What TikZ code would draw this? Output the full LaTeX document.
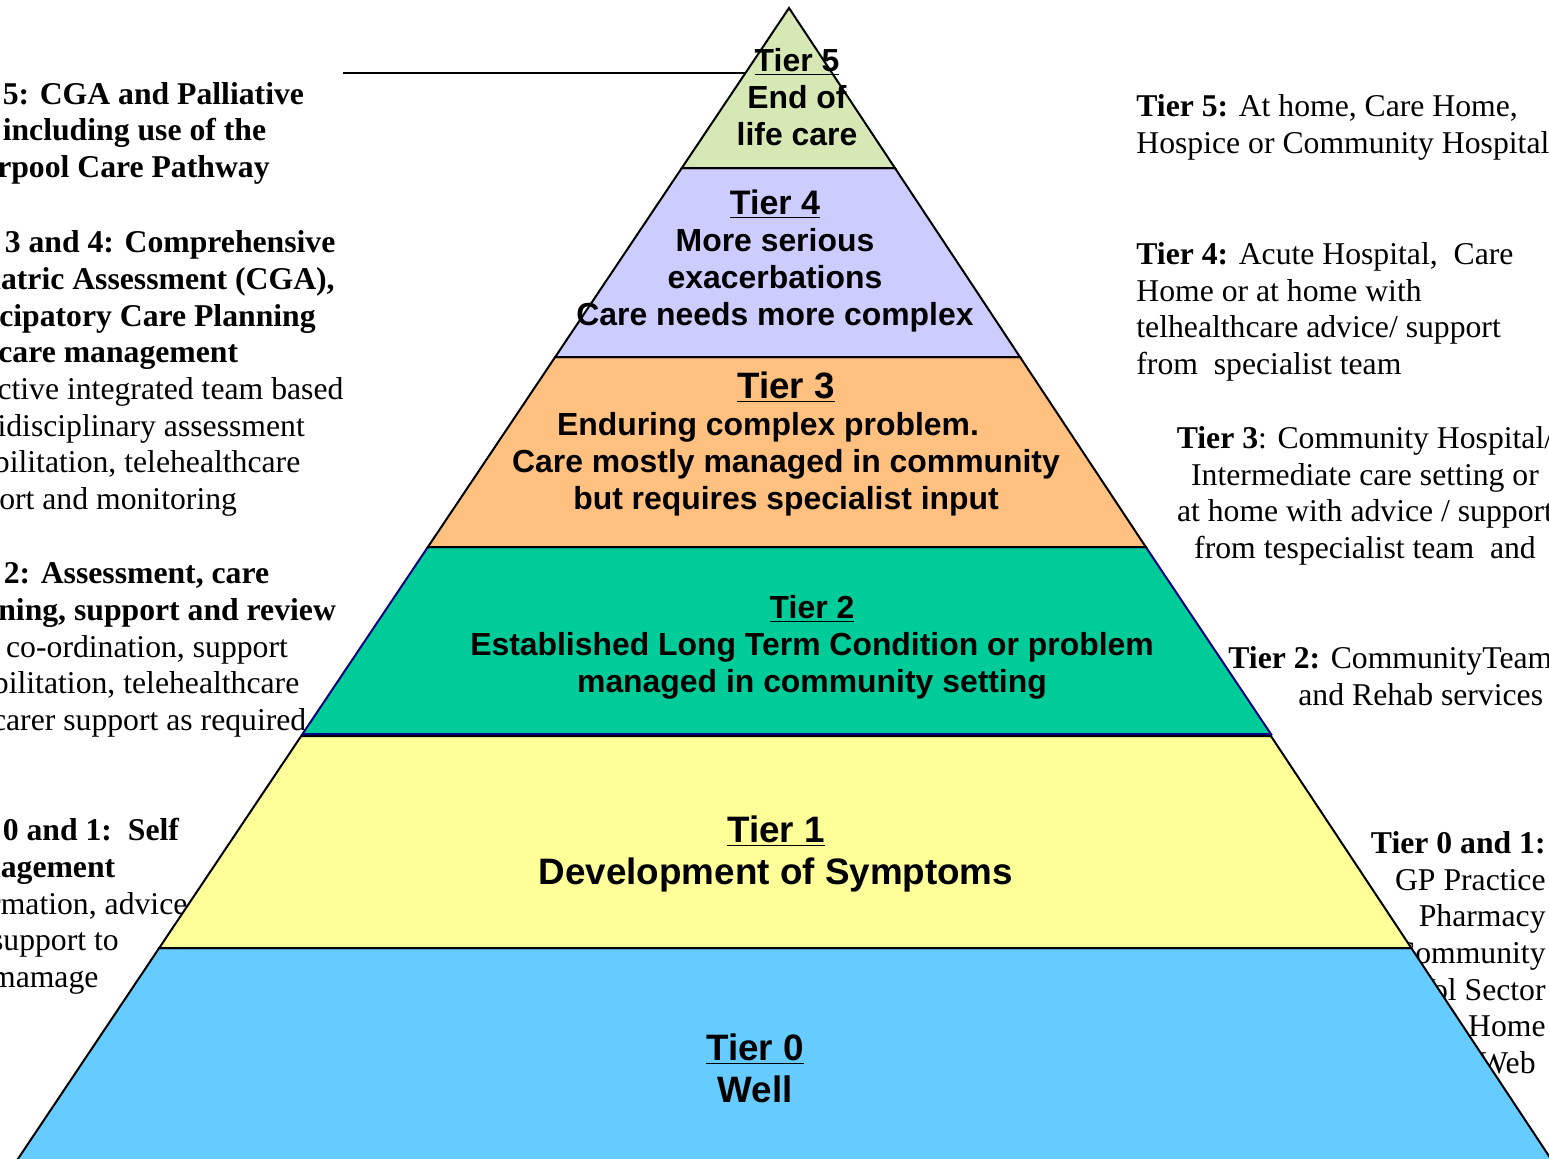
\documentclass[tikz,border=0pt]{standalone}
\usepackage{fontspec}
\setmainfont{Liberation Serif}
\newfontfamily\arialf{Liberation Sans}
\definecolor{tfive}{HTML}{D6E9B5}
\definecolor{tfour}{HTML}{CCCCFF}
\definecolor{tthree}{HTML}{FFC080}
\definecolor{ttwo}{HTML}{00CC99}
\definecolor{tone}{HTML}{FFFF99}
\definecolor{tzero}{HTML}{66CCFF}
\definecolor{navyb}{HTML}{000080}
\tikzset{
  tierbox/.style={draw=black, line width=1pt, line join=miter},
  pyr/.style={font=\arialf\bfseries\fontsize{15.95}{18.5}\selectfont, align=center, inner sep=0pt, anchor=base},
  pyrbig/.style={font=\arialf\bfseries\fontsize{18.4}{21}\selectfont, align=center, inner sep=0pt, anchor=base},
  side/.style={font=\fontsize{15.85}{18.35}\selectfont, inner sep=0pt, anchor=base west, align=left},
}
\begin{document}
\begin{tikzpicture}[x=0.5pt,y=-0.5pt]
\useasboundingbox (0,0) rectangle (1549,1158);
\clip (0,0) rectangle (1549,1158);
\fill[white] (0,0) rectangle (1549,1158);

% side texts (behind the pyramid); anchors are on the last line's baseline
\node[side] (t5l) at (-63,177.5) {\textbf{Tier 5: CGA and Palliative}\\\textbf{care including use of the}\\\textbf{Liverpool Care Pathway}};
\node[side] (t34l) at (-61,509.5) {\textbf{Tier 3 and 4: Comprehensive}\\\textbf{Geriatric Assessment (CGA),}\\\textbf{Anticipatory Care Planning}\\\textbf{and care management}\\Proactive integrated team based\\multidisciplinary assessment\\rehabilitation, telehealthcare\\support and monitoring};
\node[side] (t2l) at (-62,730.5) {\textbf{Tier 2: Assessment, care}\\\textbf{planning, support and review}\\Care co-ordination, support\\rehabilitation, telehealthcare\\and carer support as required};
\node[side] (t01l) at (-63,987.5) {\textbf{Tier 0 and 1:\ \ Self}\\\textbf{Management}\\Information, advice\\and support to\\self mamage};

\node[side] (t5r) at (1136,153.5) {\textbf{Tier 5:} At home, Care Home,\\Hospice or Community Hospital};
\node[side] (t4r) at (1136,374.5) {\textbf{Tier 4:} Acute Hospital,\ \ Care\\Home or at home with\\telhealthcare advice/ support\\from\ \ specialist team};
\node[side, anchor=base, align=center] (t3r) at (1365,558.5) {\textbf{Tier 3}: Community Hospital/\\Intermediate care setting or\\at home with advice / support\\from tespecialist team\ \ and};
\node[side] (t2r) at (1228,705.5) {\textbf{Tier 2:} CommunityTeams\\\hspace*{35pt}and Rehab services};
\node[side, anchor=base east, align=right] (t01r) at (1546,1073.5) {\textbf{Tier 0 and 1:}\\GP Practice\\Pharmacy\\Community\\Vol Sector\\Home\\Web\hspace*{5pt}};

% pointer line
\coordinate (ptrstart) at (343,73);
\coordinate (ptrend) at (745.4,73);
\draw[line width=0.7pt] (ptrstart) -- (ptrend);

% tiers
\path[tierbox, fill=tzero] (159.2,948) -- (1411.3,948) -- (1558.2,1170) -- (10.5,1170) -- cycle;
\path[tierbox, fill=tone] (301.2,736) -- (1270.9,736) -- (1411.3,948) -- (159.2,948) -- cycle;
\path[tierbox, draw=navyb, fill=ttwo] (427.9,547) -- (1145.8,547) -- (1270.9,734) -- (302.5,734) -- cycle;
\path[tierbox, fill=tthree] (555.2,357) -- (1020.0,357) -- (1145.8,547) -- (427.9,547) -- cycle;
\path[tierbox, fill=tfour] (681.8,168) -- (894.9,168) -- (1020.0,357) -- (555.2,357) -- cycle;
\path[tierbox, fill=tfive] (789,8) -- (894.9,168) -- (681.8,168) -- cycle;

% tier labels (anchored on the last line's baseline)
\node[pyr] (l5) at (797,145.5) {\underline{Tier 5}\\End of\\life care};
\node[pyr] (l4) at (775,325.5) {{\fontsize{17}{18.5}\selectfont\underline{Tier 4}}\\More serious\\exacerbations\\Care needs more complex};
\node[pyr] (l3) at (786,509.5) {{\fontsize{18.35}{18.5}\selectfont\underline{Tier 3}}\\\hbox{Enduring complex problem.\kern18pt}\\Care mostly managed in community\\but requires specialist input};
\node[pyr] (l2) at (812,692.5) {\underline{Tier 2}\\Established Long Term Condition or problem\\managed in community setting};
\node[pyrbig] (l1) at (776,884) {\underline{Tier 1}\\Development of Symptoms};
\node[pyrbig] (l0) at (755,1102) {\underline{Tier 0}\\Well};
\end{tikzpicture}
\end{document}
